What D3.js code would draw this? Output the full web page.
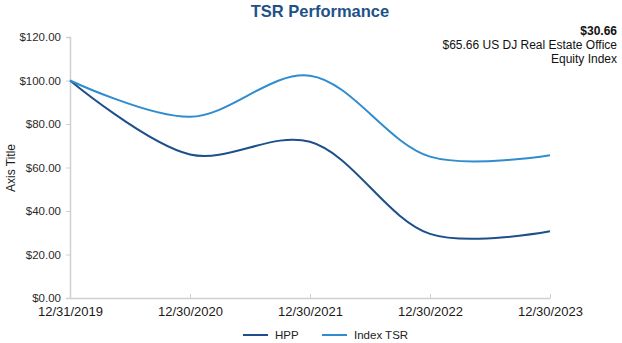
<!DOCTYPE html>
<html><head><meta charset="utf-8">
<script src="https://cdn.jsdelivr.net/npm/d3@7"></script>
<style>body{margin:0;background:#fff;font-family:"Liberation Sans",Arial,sans-serif}</style>
</head><body><svg id="c" width="622" height="343"></svg>
<script>
const dates = ["12/31/2019","12/30/2020","12/30/2021","12/30/2022","12/30/2023"];
const hpp = [100, 66, 71.8, 29.5, 30.66];
const indexTsr = [100, 83.3, 102.2, 65, 65.66];
const yTicks = [0,20,40,60,80,100,120];
const seriesNames = ["HPP","Index TSR"];
const colors = ["#1d4f8a","#2f8ccf"];

const svg = d3.select("#c");
const x = d3.scalePoint().domain(dates).range([70,550]);
const y = d3.scaleLinear().domain([0,120]).range([298,37]);

svg.append("text").attr("x",320).attr("y",17).attr("text-anchor","middle")
  .attr("font-size",16.5).attr("font-weight","bold").attr("fill","#1f5189").text("TSR Performance");

const ya = svg.append("g").attr("transform","translate(70,0)")
  .call(d3.axisLeft(y).tickValues(yTicks).tickSize(4).tickPadding(5).tickFormat(d=>"$"+d.toFixed(2)));
ya.select(".domain").attr("stroke","#d0d0d0").attr("stroke-width",1.5);
ya.selectAll(".tick line").attr("stroke","#d0d0d0");
ya.selectAll("text").attr("font-size",11.5).attr("fill","#2a2a2a").attr("font-family","Liberation Sans, Arial, sans-serif");

const xa = svg.append("g").attr("transform","translate(0,298)")
  .call(d3.axisBottom(x).tickSize(-4).tickSizeOuter(0).tickPadding(9));
xa.select(".domain").attr("stroke","#d0d0d0").attr("stroke-width",1.5);
xa.selectAll(".tick line").attr("stroke","#d0d0d0");
xa.selectAll("text").attr("font-size",13).attr("fill","#1a1a1a").attr("font-family","Liberation Sans, Arial, sans-serif");

svg.append("text").attr("transform","translate(15,168) rotate(-90)").attr("text-anchor","middle")
  .attr("font-size",12).attr("fill","#222").text("Axis Title");

const line = d3.line().x((d,i)=>x(dates[i])).y(d=>y(d)).curve(d3.curveCatmullRom.alpha(0.5));
[hpp,indexTsr].forEach((s,k)=>{
  svg.append("path").attr("d",line(s)).attr("fill","none").attr("stroke",colors[k]).attr("stroke-width",2);
});

const ann = svg.append("g").attr("font-size",12).attr("fill","#111").attr("text-anchor","end");
ann.append("text").attr("x",617).attr("y",35).attr("font-weight","bold").text("$"+hpp[4].toFixed(2));
ann.append("text").attr("x",617).attr("y",49).text("$"+indexTsr[4].toFixed(2)+" US DJ Real Estate Office");
ann.append("text").attr("x",617).attr("y",63).text("Equity Index");

const legX = [243,322];
seriesNames.forEach((n,k)=>{
  svg.append("line").attr("x1",legX[k]).attr("x2",legX[k]+25).attr("y1",335).attr("y2",335)
    .attr("stroke",colors[k]).attr("stroke-width",2);
  svg.append("text").attr("x",legX[k]+32).attr("y",339).attr("font-size",11.5).attr("fill","#222").text(n);
});
</script></body></html>
